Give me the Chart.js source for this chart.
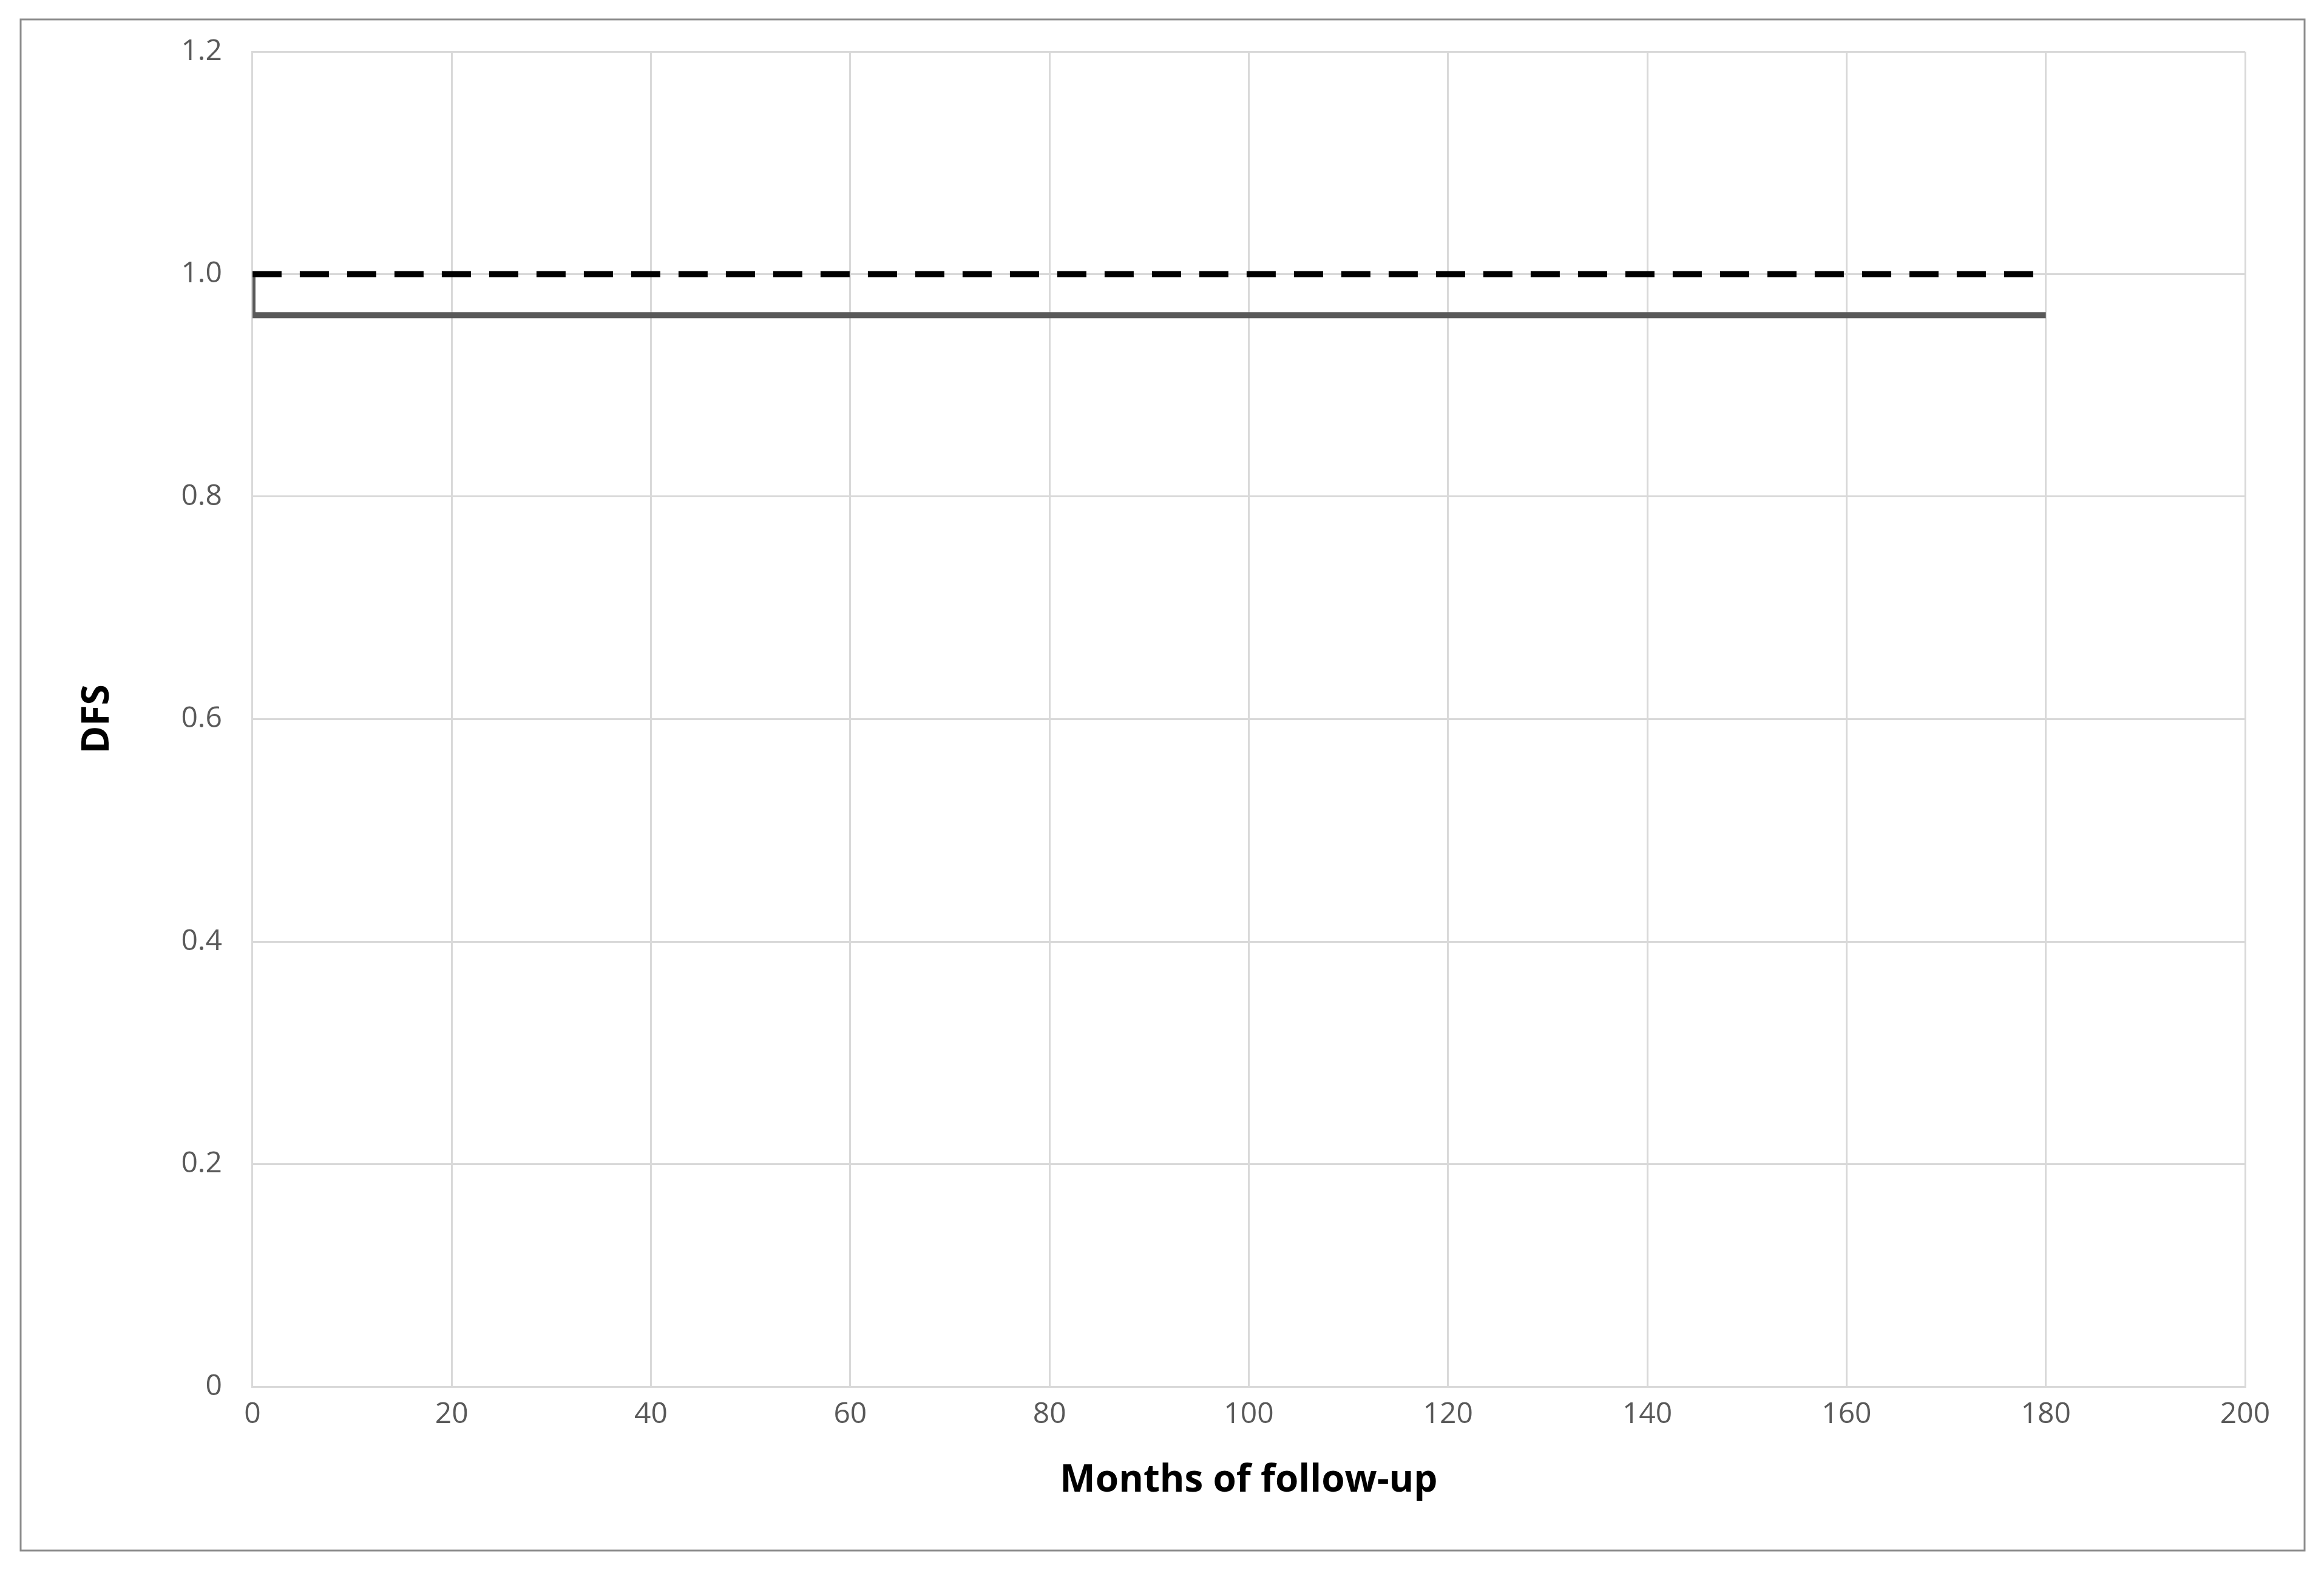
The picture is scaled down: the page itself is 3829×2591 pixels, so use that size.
<!DOCTYPE html>
<html>
<head>
<meta charset="utf-8">
<script src="https://cdn.jsdelivr.net/npm/chart.js@4"></script>
<style>
  body { margin: 0; background: #fff; }
</style>
</head>
<body>
<canvas id="grafico" width="3829" height="2591"></canvas>
<script>
// datos de las curvas (meses, DFS)
const mesesSolida = [0, 28, 180];
const dfsSolida = [1, 0.963, 0.963];
const mesesPunteada = [0, 180];
const dfsPunteada = [1, 1];
const xTicks = [0, 20, 40, 60, 80, 100, 120, 140, 160, 180, 200];
const yTicks = [0, 0.2, 0.4, 0.6, 0.8, 1, 1.2];

const toPoints = (xs, ys) => xs.map((x, i) => ({ x, y: ys[i] }));

// marco exterior
const marco = {
  id: "marco",
  beforeDraw(chart) {
    const ctx = chart.ctx;
    ctx.save();
    ctx.fillStyle = "#fff";
    ctx.fillRect(0, 0, chart.width, chart.height);
    ctx.strokeStyle = "#8c8c8c";
    ctx.lineWidth = 3;
    ctx.strokeRect(34, 32, 3763, 2522);
    ctx.restore();
  }
};

const tickFont = { family: "Open Sans", size: 48 };
const titleFont = { family: "Open Sans", size: 62, weight: "bold" };

new Chart(document.getElementById("grafico"), {
  type: "scatter",
  data: {
    datasets: [
      {
        data: toPoints(mesesPunteada, dfsPunteada),
        showLine: true,
        borderColor: "#000",
        borderWidth: 10,
        borderDash: [48, 30],
        pointRadius: 0
      },
      {
        data: toPoints(mesesSolida, dfsSolida),
        showLine: true,
        stepped: "after",
        borderColor: "#595959",
        borderWidth: 10,
        pointRadius: 0
      }
    ]
  },
  options: {
    responsive: false,
    animation: false,
    devicePixelRatio: 1,
    layout: { padding: { left: 120, top: 85, right: 130, bottom: 110 } },
    plugins: { legend: { display: false }, tooltip: { enabled: false } },
    scales: {
      x: {
        type: "linear",
        min: 0, max: 200,
        afterBuildTicks: (s) => { s.ticks = xTicks.map((v) => ({ value: v })); },
        ticks: { font: tickFont, color: "#595959", padding: 18 },
        grid: { color: "#d9d9d9", lineWidth: 3, drawTicks: false },
        border: { color: "#d9d9d9", width: 3 },
        title: { display: true, text: "Months of follow-up", font: titleFont, color: "#000", padding: { top: 25 } }
      },
      y: {
        min: 0, max: 1.2,
        afterBuildTicks: (s) => { s.ticks = yTicks.map((v) => ({ value: v })); },
        ticks: { font: tickFont, color: "#595959", padding: 50 },
        grid: { color: "#d9d9d9", lineWidth: 3, drawTicks: false },
        border: { color: "#d9d9d9", width: 3 },
        title: { display: true, text: "DFS", font: titleFont, color: "#000", padding: { bottom: 50 } }
      }
    }
  },
  plugins: [marco]
});
</script>
</body>
</html>
